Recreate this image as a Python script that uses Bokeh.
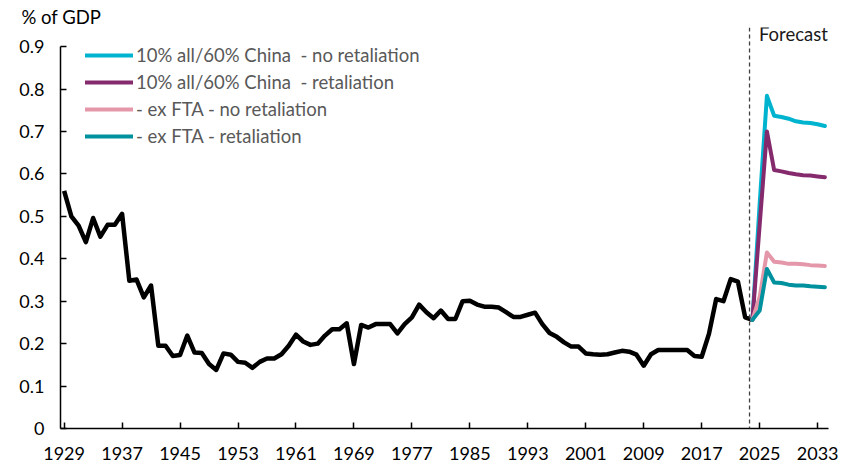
from bokeh.plotting import figure
from bokeh.models import Range1d, FixedTicker, CustomJSTickFormatter, Span, Label, Legend, LegendItem
from bokeh.embed import file_html
from bokeh.resources import INLINE

# ---- data ----
hist_years = list(range(1929, 2025))
hist_values = [
    0.56, 0.50, 0.478, 0.439, 0.496, 0.452, 0.48, 0.48, 0.506, 0.348,
    0.351, 0.309, 0.337, 0.195, 0.195, 0.171, 0.173, 0.219, 0.179, 0.178,
    0.152, 0.138, 0.177, 0.174, 0.157, 0.155, 0.143, 0.157, 0.165, 0.165,
    0.175, 0.195, 0.221, 0.205, 0.197, 0.200, 0.219, 0.234, 0.234, 0.248,
    0.152, 0.244, 0.238, 0.246, 0.246, 0.246, 0.224, 0.246, 0.262, 0.292,
    0.274, 0.260, 0.278, 0.258, 0.258, 0.300, 0.301, 0.292, 0.287, 0.287,
    0.285, 0.274, 0.263, 0.263, 0.268, 0.273, 0.246, 0.225, 0.216, 0.203,
    0.193, 0.193, 0.177, 0.175, 0.174, 0.175, 0.179, 0.183, 0.181, 0.174,
    0.148, 0.175, 0.185, 0.185, 0.185, 0.185, 0.185, 0.171, 0.169, 0.223,
    0.305, 0.300, 0.352, 0.346, 0.262, 0.256,
]
fc_years = list(range(2024, 2035))
fc_all_no_ret = [0.256, 0.53, 0.784, 0.737, 0.734, 0.730, 0.724, 0.721, 0.720, 0.717, 0.713]
fc_all_ret = [0.256, 0.48, 0.700, 0.609, 0.606, 0.602, 0.599, 0.597, 0.596, 0.594, 0.592]
fc_exfta_no_ret = [0.256, 0.31, 0.415, 0.393, 0.391, 0.388, 0.388, 0.387, 0.385, 0.384, 0.383]
fc_exfta_ret = [0.256, 0.278, 0.376, 0.344, 0.343, 0.339, 0.337, 0.337, 0.335, 0.334, 0.333]

series_names = [
    "10% all/60% China  - no retaliation",
    "10% all/60% China  - retaliation",
    "- ex FTA - no retaliation",
    "- ex FTA - retaliation",
]
series_values = [fc_all_no_ret, fc_all_ret, fc_exfta_no_ret, fc_exfta_ret]
series_colors = ["#00B4CF", "#862A6E", "#E597AA", "#00919F"]

x_ticks = list(range(1929, 2035, 8))
y_ticks = [0, 0.1, 0.2, 0.3, 0.4, 0.5, 0.6, 0.7, 0.8, 0.9]
forecast_start = 2023.6

FONT = "Lato"

p = figure(width=851, height=465, output_backend="svg", toolbar_location=None,
           x_range=Range1d(1928.5, 2034.5), y_range=Range1d(0, 0.945),
           min_border_left=60, min_border_right=23, min_border_top=27, min_border_bottom=37)
p.outline_line_color = None
p.xgrid.grid_line_color = None
p.ygrid.grid_line_color = None
p.background_fill_color = "white"
p.border_fill_color = "white"

p.title.text = "% of GDP"
p.title.text_font = FONT
p.title.text_font_size = "18.5px"
p.title.text_font_style = "normal"
p.title.text_color = "#000000"
p.title.align = "left"
p.title.offset = -39
p.title.standoff = 0

for ax in (p.xaxis[0], p.yaxis[0]):
    ax.axis_line_color = "black"
    ax.axis_line_width = 1.5
    ax.major_tick_line_color = "black"
    ax.major_tick_line_width = 1.5
    ax.major_tick_in = 6
    ax.major_tick_out = 0
    ax.minor_tick_line_color = None
    ax.major_label_text_font = FONT
    ax.major_label_text_font_size = "18px"
    ax.major_label_text_color = "#000000"

p.xaxis[0].ticker = FixedTicker(ticks=x_ticks)
p.xaxis[0].major_label_standoff = 18
p.yaxis[0].ticker = FixedTicker(ticks=y_ticks)
p.yaxis[0].bounds = (0, 0.9)
p.yaxis[0].major_label_standoff = 16
p.yaxis[0].formatter = CustomJSTickFormatter(code="return tick == 0 ? '0' : tick.toFixed(1);")

p.line(hist_years, hist_values, line_color="black", line_width=4.5, line_join="round")

items = []
for name, vals, col in zip(series_names, series_values, series_colors):
    r = p.line(fc_years, vals, line_color=col, line_width=4, line_join="round", line_cap="round")
    items.append(LegendItem(label=name, renderers=[r]))

p.add_layout(Span(location=forecast_start, dimension="height", line_color="#404040",
                  line_width=1.3, line_dash="4 3"))

legend = Legend(items=items, location=(25, 281), glyph_width=48, glyph_height=22,
                label_height=22, spacing=5, padding=0, margin=0, label_standoff=3,
                label_text_font=FONT, label_text_font_size="18.5px", label_text_color="#595959",
                background_fill_alpha=0, border_line_alpha=0)
p.add_layout(legend, "center")

p.add_layout(Label(x=2024.9, y=0.93, text="Forecast", text_font=FONT, text_font_size="18.5px",
                   text_color="#1a1a1a", text_baseline="middle"))

open("out.html", "w").write(file_html(p, INLINE))
